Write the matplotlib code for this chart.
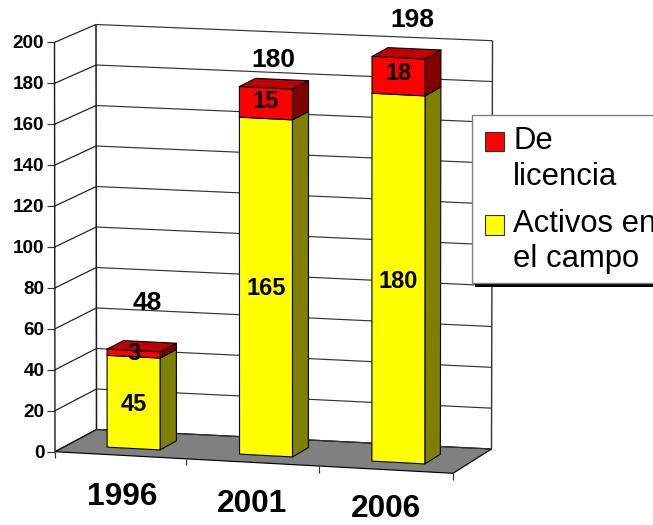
import matplotlib
matplotlib.use("Agg")
import matplotlib.pyplot as plt
from matplotlib.patches import Polygon, Rectangle

plt.rcParams['font.family'] = ['Liberation Sans', 'DejaVu Sans']

# ---- data ----
years = ['1996', '2001', '2006']
activos = [45, 165, 180]
licencia = [3, 15, 18]
totales = [48, 180, 198]
y_ticks = [0, 20, 40, 60, 80, 100, 120, 140, 160, 180, 200]
series_names = ['De\nlicencia', 'Activos en\nel campo']

# ---- 3D box frame in pixels: [depth][width] at value 0 and at value 200 ----
V_MAX = 200.0
N = len(years)
BOTTOM = {(0, 0): (55.0, 451.7), (1, 0): (453.0, 473.3),
          (0, 1): (96.5, 429.5), (1, 1): (491.5, 449.0)}
TOP = {(0, 0): (54.5, 42.4), (1, 0): (453.0, 64.0),
       (0, 1): (96.0, 24.5), (1, 1): (492.5, 40.7)}


def proj(u, d, v):
    """category position u (0..N), depth d (0 front..1 back), value v -> pixels"""
    s, t, w = u / N, d, v / V_MAX
    out = []
    for k in (0, 1):
        b = ((1 - s) * (1 - t) * BOTTOM[0, 0][k] + s * (1 - t) * BOTTOM[1, 0][k]
             + (1 - s) * t * BOTTOM[0, 1][k] + s * t * BOTTOM[1, 1][k])
        a = ((1 - s) * (1 - t) * TOP[0, 0][k] + s * (1 - t) * TOP[1, 0][k]
             + (1 - s) * t * TOP[0, 1][k] + s * t * TOP[1, 1][k])
        out.append(b + (a - b) * w)
    return tuple(out)


fig = plt.figure(figsize=(6.53, 5.25), dpi=100, facecolor='white')
ax = fig.add_axes([0, 0, 1, 1])
ax.set_xlim(0, 653)
ax.set_ylim(525, 0)
ax.axis('off')

LINE = '#1a1a1a'
LW = 0.85

# floor
ax.add_patch(Polygon([proj(0, 0, 0), proj(N, 0, 0), proj(N, 1, 0), proj(0, 1, 0)],
                     closed=True, fc='#808080', ec='black', lw=LW, zorder=1))


def seg(p, q, color=LINE, lw=LW, z=2):
    ax.plot([p[0], q[0]], [p[1], q[1]], color=color, lw=lw, zorder=z,
            solid_capstyle='butt')


# gridlines on walls, value ticks and tick labels
for v in y_ticks:
    a, b, c = proj(0, 0, v), proj(0, 1, v), proj(N, 1, v)
    seg(a, b)
    seg(b, c, color='#333333')
    seg((a[0] - 8, a[1]), a, color='#333333')
    ax.text(a[0] - 10.5, a[1] + 1.3, str(v), ha='right', va='center',
            fontsize=13.6, fontweight='bold', color='black', zorder=6)

# wall frame
seg(proj(0, 0, 0), proj(0, 0, V_MAX), lw=1.0)
seg(proj(0, 1, 0), proj(0, 1, V_MAX), lw=1.1)
seg(proj(N, 1, 0), proj(N, 1, V_MAX), color='#333333', lw=1.0)

# category ticks and labels
tick_shift = [0, -2, -1, 0]
for i in range(N + 1):
    p = proj(i, 0, 0)
    seg((p[0] + tick_shift[i], p[1]), (p[0] + tick_shift[i], p[1] + 6.5), color='#333333')
cat_offsets = [(0.5, 42), (-2, 41), (-0.5, 39)]
for i, yr in enumerate(years):
    p = proj(i + 0.5, 0, 0)
    ax.text(p[0] + cat_offsets[i][0], p[1] + cat_offsets[i][1], yr, ha='center', va='center',
            fontsize=22.8, fontweight='bold', color='black', zorder=6)

# bars
U_HALF = 0.2
D0, D1 = 0.30, 0.70


def box(i, v0, v1, front, side, top, z):
    u0, u1 = i + 0.5 - U_HALF, i + 0.5 + U_HALF
    faces = [
        ([proj(u1, D0, v0), proj(u1, D1, v0), proj(u1, D1, v1), proj(u1, D0, v1)], side),
        ([proj(u0, D0, v1), proj(u1, D0, v1), proj(u1, D1, v1), proj(u0, D1, v1)], top),
        ([proj(u0, D0, v0), proj(u1, D0, v0), proj(u1, D0, v1), proj(u0, D0, v1)], front),
    ]
    for pts, col in faces:
        ax.add_patch(Polygon(pts, closed=True, fc=col, ec='black', lw=0.8,
                             joinstyle='round', zorder=z))


for i in range(N):
    box(i, 0, activos[i], '#FFFF00', '#808000', '#BFBF00', 3 + i * 0.1)
    box(i, activos[i], activos[i] + licencia[i], '#FF0000', '#800000', '#C00000', 3.05 + i * 0.1)

# value labels inside segments
low_off = [1.5, 1.5, 3]
high_off = [0, -2, -3]
for i in range(N):
    p = proj(i + 0.5, D0, activos[i] / 2)
    ax.text(p[0], p[1] + low_off[i], str(activos[i]), ha='center', va='center',
            fontsize=17, fontweight='bold', color='black', zorder=6)
    p = proj(i + 0.5, D0, activos[i] + licencia[i] / 2)
    ax.text(p[0], p[1] + high_off[i], str(licencia[i]), ha='center', va='center',
            fontsize=17, fontweight='bold', color='black', zorder=6)

# total labels above bars
tot_off = [(14, -48), (7, -28), (14, -38)]
for i in range(N):
    p = proj(i + 0.5, D0, totales[i])
    ax.text(p[0] + tot_off[i][0], p[1] + tot_off[i][1], str(totales[i]), ha='center', va='center',
            fontsize=19, fontweight='bold', color='black', zorder=6)

# legend (box runs past the right edge, as in the source picture)
ax.add_patch(Rectangle((474.5, 283), 200, 4, fc='black', ec='none', zorder=7))
ax.add_patch(Rectangle((472, 115), 200, 168, fc='white', ec='#808080', lw=1.0, zorder=7))
ax.add_patch(Rectangle((484.5, 131.5), 19.5, 19.5, fc='#FF0000', ec='#333333', lw=0.8, zorder=8))
ax.add_patch(Rectangle((484.5, 215), 19.5, 19.5, fc='#FFFF00', ec='#333333', lw=0.8, zorder=8))
first, second = series_names[0].split('\n'), series_names[1].split('\n')
for txt, base in zip(first + second, [149, 185, 232, 267]):
    ax.text(513, base, txt, ha='left', va='baseline', fontsize=22.3, color='black', zorder=9)

fig.savefig('out.png', dpi=100)
